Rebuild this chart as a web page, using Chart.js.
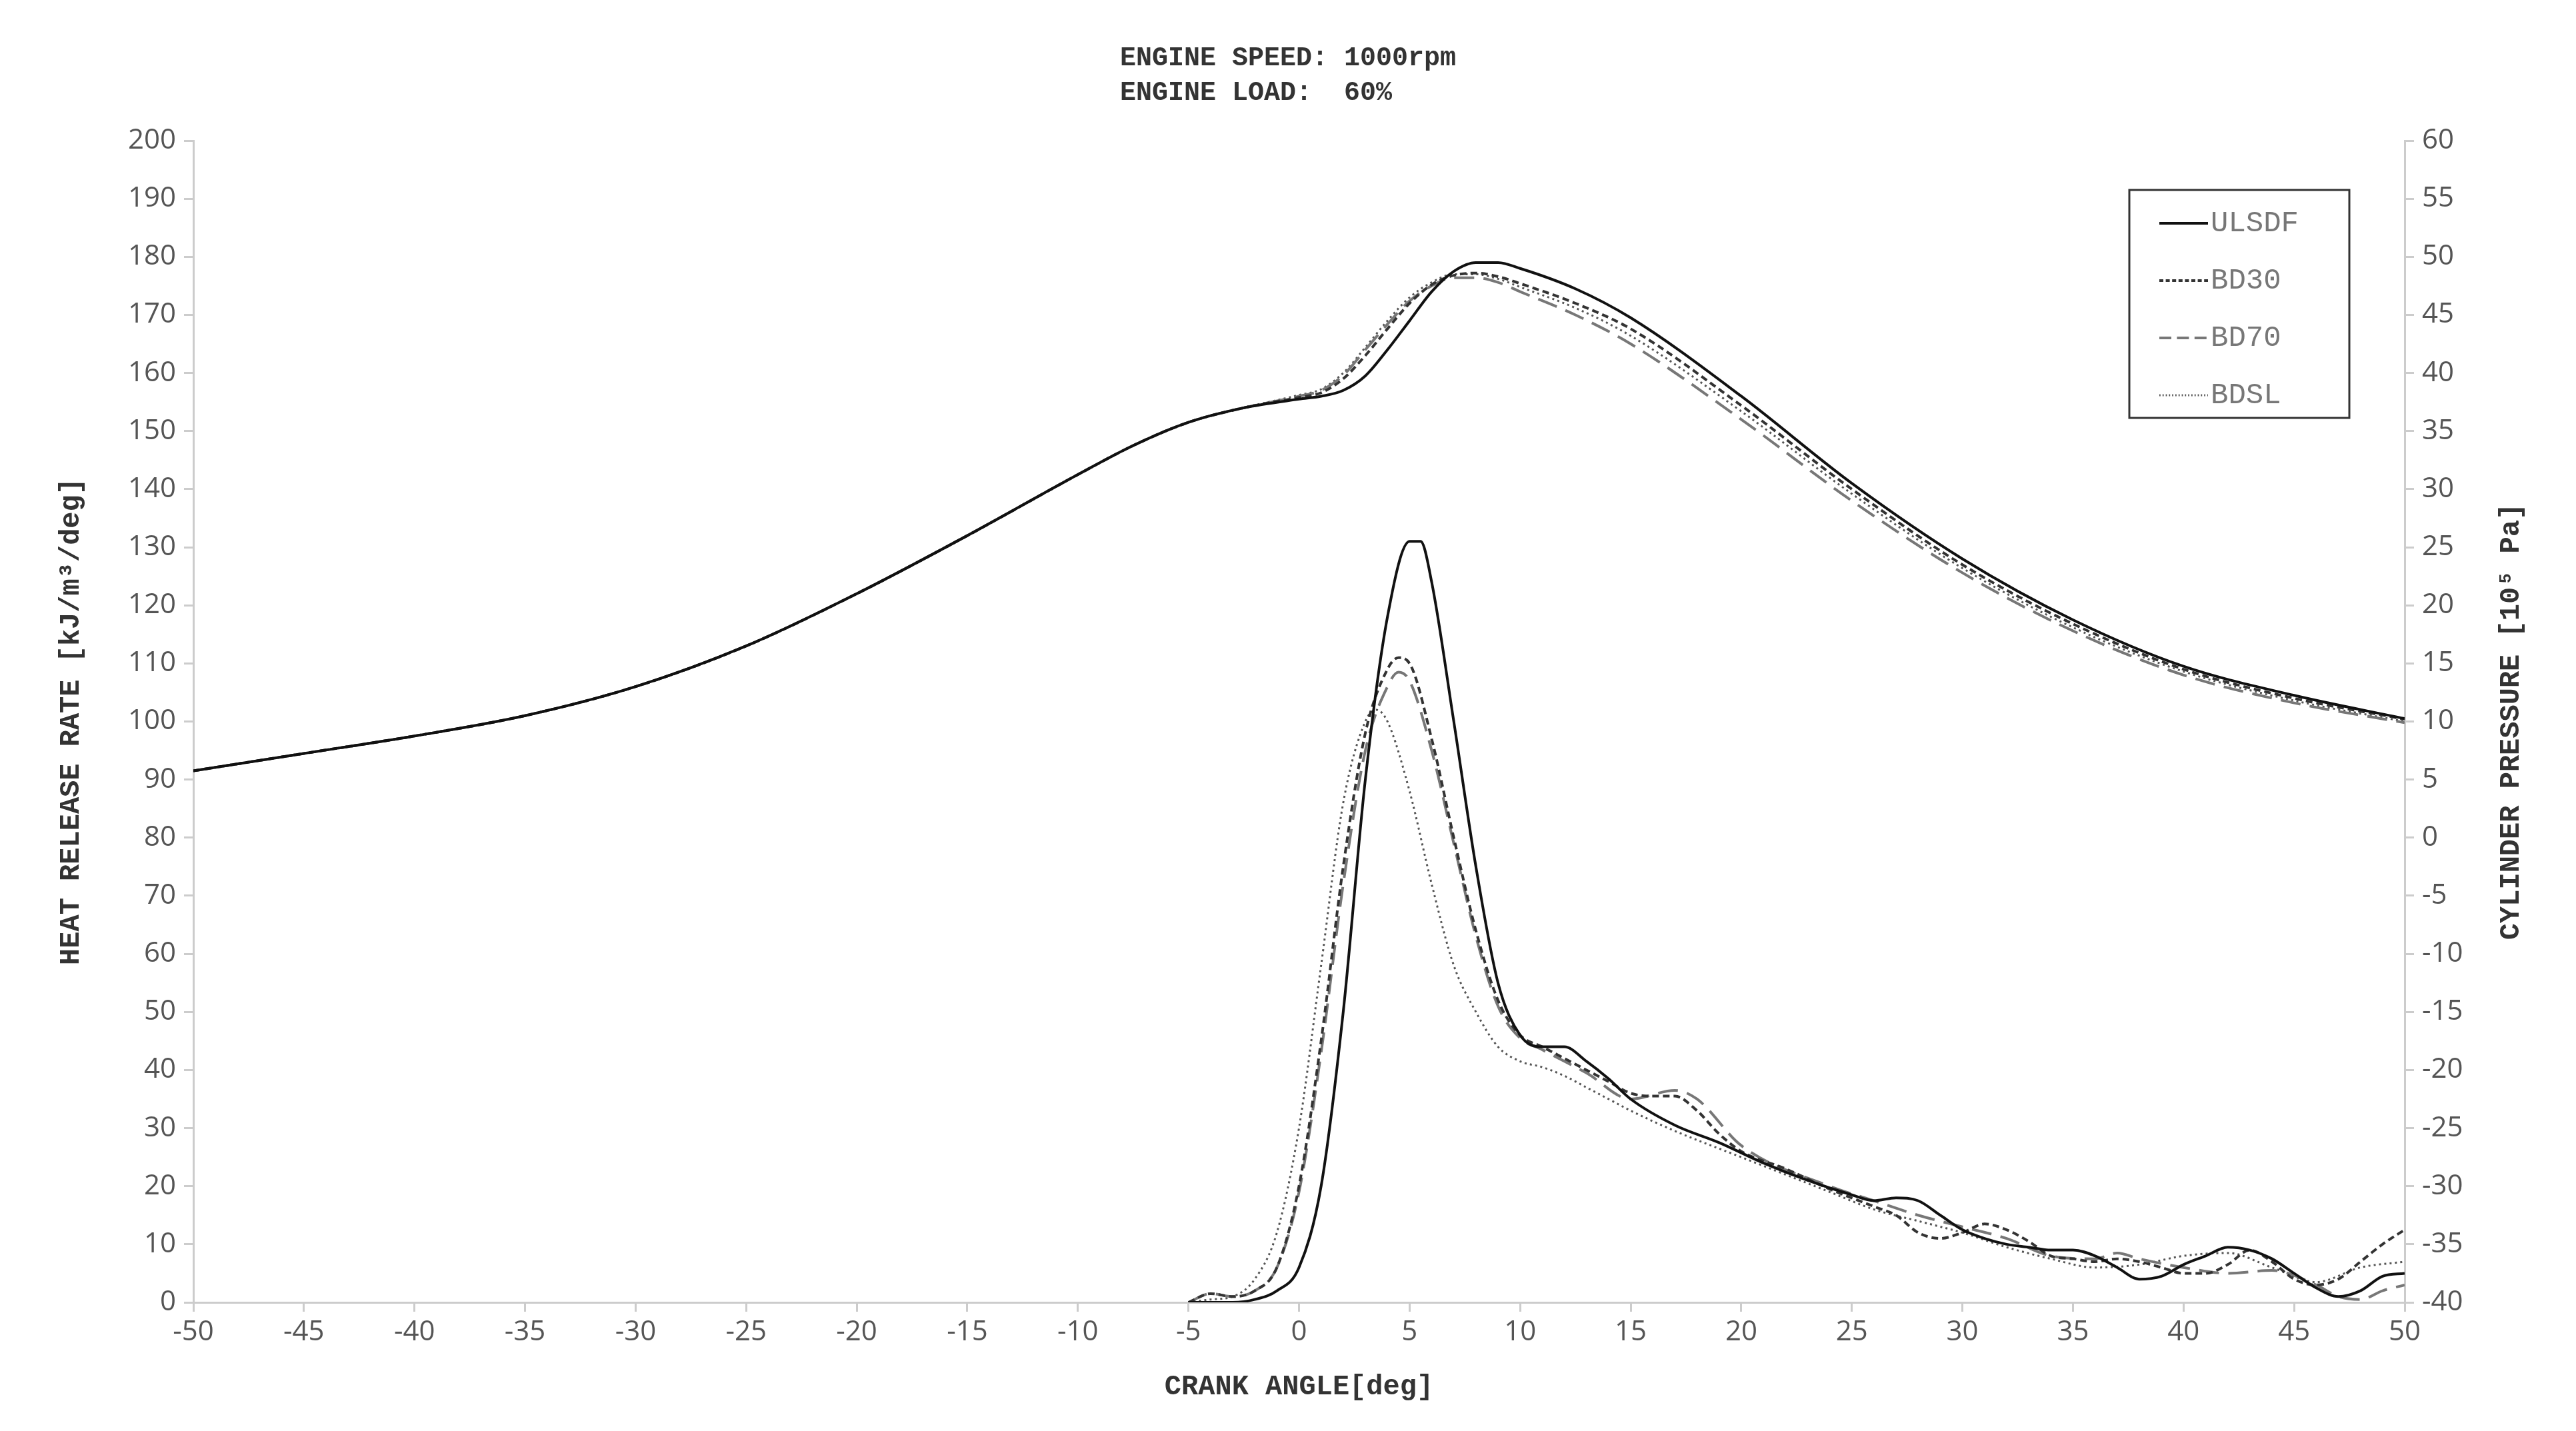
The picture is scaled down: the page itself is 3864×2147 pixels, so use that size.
<!DOCTYPE html>
<html>
<head>
<meta charset="utf-8">
<script src="https://cdn.jsdelivr.net/npm/chart.js@4.4.1/dist/chart.umd.min.js"></script>
<style>
  html, body { margin: 0; padding: 0; background: #fff; }
  #wrap { width: 3864px; height: 2147px; }
</style>
</head>
<body>
<div id="wrap"><canvas id="hrr-chart"></canvas></div>
<script>
const seriesNames = ["ULSDF", "BD30", "BD70", "BDSL"];

// cylinder pressure [10^5 Pa] vs crank angle
const pAngle = [-50, -45, -40, -35, -30, -25, -20, -15, -10, -7.5, -5, -2.5, 0, 1, 2, 3, 4, 5, 6, 7, 8, 9, 10, 12.5, 15, 20, 25, 30, 35, 40, 45, 50];
const pULSDF = [5.75, 7.25, 8.75, 10.5, 13, 16.5, 21, 26, 31.25, 33.75, 35.75, 37, 37.75, 38, 38.5, 39.75, 42, 44.5, 47, 48.75, 49.5, 49.5, 49, 47.25, 44.75, 38, 30.5, 24, 18.75, 14.75, 12.25, 10.25];
const pBD30 = [5.75, 7.25, 8.75, 10.5, 13, 16.5, 21, 26, 31.25, 33.75, 35.75, 37, 37.9, 38.3, 39.5, 41.5, 43.8, 46, 47.6, 48.4, 48.6, 48.3, 47.7, 46, 43.8, 37.2, 30, 23.5, 18.4, 14.5, 12, 10.2];
const pBD70 = [5.75, 7.25, 8.75, 10.5, 13, 16.5, 21, 26, 31.25, 33.75, 35.75, 37, 38, 38.5, 39.8, 42, 44.2, 46.2, 47.5, 48.2, 48.2, 47.8, 47, 45, 42.5, 36, 29, 22.8, 17.8, 14, 11.6, 9.9];
const pBDSL = [5.75, 7.25, 8.75, 10.5, 13, 16.5, 21, 26, 31.25, 33.75, 35.75, 37, 38.1, 38.6, 40, 42.2, 44.5, 46.5, 47.8, 48.5, 48.5, 48.1, 47.4, 45.6, 43.2, 36.7, 29.6, 23.2, 18.1, 14.3, 11.8, 10];

// heat release rate [kJ/m3/deg]
const hULSDFx = [-5, -3, -2, -1, 0, 1, 2, 3, 4, 5, 5.5, 6, 7, 8, 9, 10, 11, 12, 13, 14, 15, 17, 19, 21, 23, 25, 26, 27, 28, 29, 30, 31, 32, 33, 34, 35, 36, 37, 38, 39, 40, 41, 42, 43, 44, 45, 46, 47, 48, 49, 50];
const hULSDF = [0, 0, 0.5, 2, 6, 20, 50, 90, 118, 131, 131, 124, 100, 75, 55, 46, 44, 44, 41.5, 38.5, 35, 30.5, 27.5, 24, 21, 18.5, 17.5, 18, 17.5, 15, 12.5, 11, 10, 9.5, 9, 9, 8, 6, 4, 4.5, 6.5, 8, 9.5, 9, 7.5, 5, 2.5, 1, 2, 4.5, 5];
const hBD30x = [-5, -4, -3, -2, -1, 0, 1, 2, 3, 4, 4.5, 5, 6, 7, 8, 9, 10, 11, 12, 13, 14, 15, 16, 17, 18, 19, 20, 22, 24, 26, 27, 28, 29, 30, 31, 32, 33, 34, 35, 36, 37, 38, 39, 40, 41, 42, 43, 44, 45, 46, 47, 48, 49, 50];
const hBD30 = [0, 1.5, 1, 2, 6, 20, 45, 75, 98, 109, 111, 110, 97, 80, 64, 52, 46, 44, 42, 40, 38, 36, 35.5, 35.5, 33, 29, 26, 23, 19.5, 16.5, 15, 12, 11, 12, 13.5, 12.5, 10.5, 8, 7.5, 7, 7.5, 7, 6, 5, 5, 6.5, 9, 7, 4, 3, 4, 7, 10, 12.5];
const hBD70x = [-5, -4, -3, -2, -1, 0, 1, 2, 3, 4, 4.5, 5, 6, 7, 8, 9, 10, 11, 12, 13, 15, 17, 18, 20, 24, 26, 28, 30, 32, 34, 36, 37, 38, 40, 42, 44, 46, 47, 48, 49, 50];
const hBD70 = [0, 1.5, 1, 2, 6, 19, 43, 72, 95, 106, 108.5, 107, 95, 79, 63, 51, 45.5, 43.5, 41.5, 39.5, 35, 36.5, 35, 27, 20, 17.5, 15, 13, 11, 8, 7.5, 8.5, 7.5, 6, 5, 5.5, 3, 1, 0.5, 2, 3];
const hBDSLx = [-5, -4, -3, -2, -1, 0, 1, 2, 3, 3.5, 4, 5, 6, 7, 8, 9, 10, 11, 12, 13, 14, 15, 17, 20, 22, 24, 26, 28, 30, 32, 34, 36, 38, 40, 42, 44, 46, 48, 50];
const hBDSL = [0, 0.5, 1, 4, 12, 30, 58, 86, 100, 102, 100, 88, 72, 58, 50, 44, 41.5, 40.5, 39, 37, 35, 33, 29.5, 25, 22, 19, 16, 14, 12, 9.5, 7.5, 6, 6.5, 8, 8.5, 6, 3.5, 6, 7];

const xTicks = [-50, -45, -40, -35, -30, -25, -20, -15, -10, -5, 0, 5, 10, 15, 20, 25, 30, 35, 40, 45, 50];

const styles = [
  { color: "#111", width: 4, dash: [] },
  { color: "#333", width: 4, dash: [10, 6] },
  { color: "#777", width: 4, dash: [30, 14] },
  { color: "#555", width: 3, dash: [3, 5] },
];

function pts(xs, ys) {
  return xs.map((x, i) => ({ x: x, y: ys[i] }));
}

const hrrData = [pts(hULSDFx, hULSDF), pts(hBD30x, hBD30), pts(hBD70x, hBD70), pts(hBDSLx, hBDSL)];
const presData = [pULSDF, pBD30, pBD70, pBDSL].map((s) => pts(pAngle, s));

let datasets = [];
seriesNames.forEach((name, i) => {
  const st = styles[i];
  datasets.push({
    label: name, data: hrrData[i], yAxisID: "y",
    borderColor: st.color, borderWidth: st.width, borderDash: st.dash,
    pointRadius: 0, cubicInterpolationMode: "monotone", fill: false,
  });
  datasets.push({
    label: name + " p", data: presData[i], yAxisID: "y2",
    borderColor: st.color, borderWidth: st.width, borderDash: st.dash,
    pointRadius: 0, cubicInterpolationMode: "monotone", fill: false,
  });
});

const mono = "'Liberation Mono', 'DejaVu Sans Mono', monospace";
const sans = "'Open Sans', 'Noto Sans', sans-serif";

const extras = {
  id: "extras",
  afterDraw(chart) {
    const c = chart.ctx;
    const area = chart.chartArea;
    c.save();
    // right axis title, reading bottom to top
    c.font = "bold 42px " + mono;
    c.fillStyle = "#333";
    c.textAlign = "center";
    c.textBaseline = "middle";
    c.translate(3767, (area.top + area.bottom) / 2);
    c.rotate(-Math.PI / 2);
    c.fillText("CYLINDER PRESSURE [10\u2075 Pa]", 0, 0);
    c.restore();

    // legend box
    c.save();
    const bx = 3194, by = 285, bw = 330, bh = 342;
    c.strokeStyle = "#333";
    c.lineWidth = 3;
    c.strokeRect(bx, by, bw, bh);
    c.font = "44px " + mono;
    c.textBaseline = "middle";
    c.textAlign = "left";
    seriesNames.forEach((name, i) => {
      const st = styles[i];
      const yy = by + 50 + i * 86;
      c.strokeStyle = st.color;
      c.lineWidth = st.width;
      c.setLineDash(st.dash.length ? st.dash.map((d) => d * 0.6) : []);
      c.beginPath();
      c.moveTo(bx + 45, yy);
      c.lineTo(bx + 118, yy);
      c.stroke();
      c.fillStyle = "#777";
      c.fillText(name, bx + 122, yy);
    });
    c.restore();
  },
};

const ctx = document.getElementById("hrr-chart");
new Chart(ctx, {
  type: "line",
  data: { datasets: datasets },
  plugins: [extras],
  options: {
    responsive: true,
    maintainAspectRatio: false,
    animation: false,
    layout: { padding: { left: 0, right: 0, top: 0, bottom: 0 } },
    plugins: {
      legend: { display: false },
      tooltip: { enabled: false },
      title: {
        display: true,
        text: ["ENGINE SPEED: 1000rpm", "ENGINE LOAD:  60%    "],
        font: { family: mono, size: 40, weight: "bold", lineHeight: 1.3 },
        color: "#333",
        padding: { top: 62, bottom: 45 },
      },
    },
    scales: {
      x: {
        type: "linear", min: -50, max: 50,
        afterBuildTicks: (s) => { s.ticks = xTicks.map((v) => ({ value: v })); },
        afterFit: (s) => { s.height = 193; },
        grid: { drawOnChartArea: false, drawTicks: true, tickLength: 14, color: "#ccc", lineWidth: 3 },
        border: { color: "#ccc", width: 3 },
        ticks: { font: { family: sans, size: 42 }, color: "#555", maxRotation: 0, padding: 6 },
        title: { display: true, text: "CRANK ANGLE[deg]", font: { family: mono, size: 42, weight: "bold" }, color: "#333", padding: { top: 8, bottom: 40 } },
      },
      y: {
        position: "left", min: 0, max: 200,
        afterFit: (s) => { s.width = 290; },
        grid: { drawOnChartArea: false, drawTicks: true, tickLength: 14, color: "#ccc", lineWidth: 3 },
        border: { color: "#ccc", width: 3 },
        ticks: { stepSize: 10, font: { family: sans, size: 42 }, color: "#555", padding: 12 },
        title: { display: true, text: "HEAT RELEASE RATE [kJ/m\u00b3/deg]", font: { family: mono, size: 42, weight: "bold" }, color: "#333", padding: { top: 82, bottom: 10 } },
      },
      y2: {
        position: "right", min: -40, max: 60,
        afterFit: (s) => { s.width = 257; },
        grid: { drawOnChartArea: false, drawTicks: true, tickLength: 14, color: "#ccc", lineWidth: 3 },
        border: { color: "#ccc", width: 3 },
        ticks: { stepSize: 5, font: { family: sans, size: 42 }, color: "#555", padding: 12 },
      },
    },
  },
});
</script>
</body>
</html>
